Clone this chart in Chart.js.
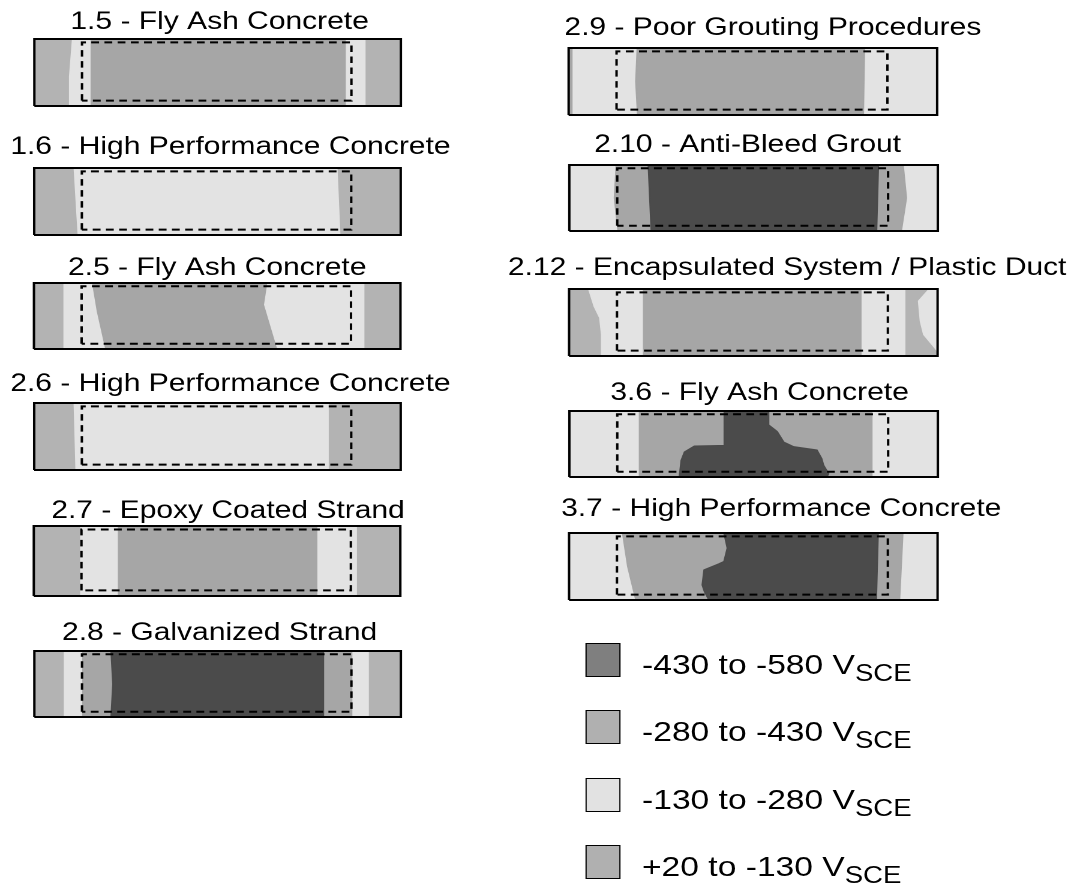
<!DOCTYPE html>
<html>
<head>
<meta charset="utf-8">
<script src="https://cdn.jsdelivr.net/npm/chart.js@4.4.1/dist/chart.umd.min.js"></script>
<style>
html, body { margin: 0; padding: 0; background: #fff; }
body { width: 1075px; height: 886px; overflow: hidden; position: relative; font-family: 'Liberation Sans', Arial, sans-serif; }
/* the original figure is stretched sideways, so the whole stage is too */
#stage { position: absolute; left: 0; top: 0; width: 896px; height: 886px; transform: scaleX(1.2); transform-origin: 0 0; }
.panel { position: absolute; }
.swatch { position: absolute; box-sizing: border-box; border: 1.5px solid #000; height: 34px; }
.keytext { position: absolute; font-size: 28px; line-height: 34px; white-space: nowrap; color: #000; }
.keytext span { font-size: 23px; vertical-align: -7px; }
</style>
</head>
<body>
<div id="stage"></div>
<script>
// potential ranges, darkest first (as in the key)
var levelLabels = ['-430 to -580', '-280 to -430', '-130 to -280', '+20 to -130'];

var titles = [
    '1.5 - Fly Ash Concrete',
    '1.6 - High Performance Concrete',
    '2.5 - Fly Ash Concrete',
    '2.6 - High Performance Concrete',
    '2.7 - Epoxy Coated Strand',
    '2.8 - Galvanized Strand',
    '2.9 - Poor Grouting Procedures',
    '2.10 - Anti-Bleed Grout',
    '2.12 - Encapsulated System / Plastic Duct',
    '3.6 - Fly Ash Concrete',
    '3.7 - High Performance Concrete'
];

// contour zones: [level, outline as [% of length, % of height]]
var whole = [[0, 0], [0, 100], [100, 100], [100, 0]];
var zones15 = [
    [3, whole],
    [2, [[10.4, 100], [9.6, 44], [9.6, 0], [90.2, 0], [90.2, 100]]],
    [1, [[15.5, 100], [15.5, 0], [84.8, 0], [84.8, 100]]]
];
var zones16 = [
    [3, whole],
    [2, [[10.9, 100], [12.0, 0], [83.4, 0], [82.6, 100]]]
];
var zones25 = [
    [3, whole],
    [2, [[8.2, 100], [8.2, 0], [90, 0], [90, 100]]],
    [1, [[16, 100], [17.3, 57], [19.6, 0], [66.2, 0], [62.6, 67], [63.5, 100]]]
];
var zones26 = [
    [3, whole],
    [2, [[10.9, 100], [11.4, 0], [80.2, 0], [80.2, 100]]]
];
var zones27 = [
    [3, whole],
    [2, [[12.8, 100], [12.8, 0], [88, 0], [88, 100]]],
    [1, [[23.1, 100], [23.1, 0], [77.2, 0], [77.2, 100]]]
];
var zones28 = [
    [3, whole],
    [2, [[8.2, 100], [8.2, 0], [91.1, 0], [91.1, 100]]],
    [1, [[13.2, 100], [13.2, 0], [86.6, 0], [86.6, 100]]],
    [0, [[20.9, 100], [21.4, 50], [20.9, 0], [78.9, 0], [78.9, 100]]]
];
var zones29 = [
    [2, whole],
    [1, [[0, 100], [0.9, 100], [0.9, 0], [0, 0]]],
    [1, [[18.6, 100], [18.2, 50], [18.7, 0], [80.0, 0], [80.3, 100]]]
];
var zones210 = [
    [2, whole],
    [1, [[12.7, 100], [12.2, 50], [13.2, 0], [90.1, 0], [91.5, 50], [90.6, 100]]],
    [0, [[21.4, 100], [22.2, 0], [83.4, 0], [83.9, 100]]]
];
var zones212 = [
    [3, whole],
    [2, [[5.3, 100], [6.8, 74], [8.3, 57], [8.8, 32], [8.8, 0], [91.1, 0], [91.1, 100]]],
    [1, [[20.2, 100], [20.2, 0], [79.2, 0], [79.2, 100]]],
    [2, [[97.7, 100], [94.8, 82], [95.3, 52], [96.2, 32], [100, 7], [100, 100]]]
];
var zones36 = [
    [2, whole],
    [1, [[19.0, 100], [19.0, 0], [82.1, 0], [82.1, 100]]],
    [0, [[42, 100], [42, 48], [33.9, 47], [31.2, 38], [30.3, 25], [29.8, 0], [69.9, 0], [70.4, 5],
         [69, 18], [68.5, 28], [67.2, 41], [60.9, 46], [58.2, 53], [56.4, 69], [54.1, 79], [54.1, 100]]]
];
var zones37 = [
    [2, whole],
    [1, [[14.5, 100], [15.9, 50], [18.1, 0], [89.7, 0], [90.6, 100]]],
    [0, [[42, 100], [42.9, 77.5], [42, 57.5], [40.6, 54], [36.6, 45], [36.1, 22.5], [36.7, 12.5],
         [37.9, 0], [83.4, 0], [83.9, 100]]]
];
var panels = [zones15, zones16, zones25, zones26, zones27, zones28,
              zones29, zones210, zones212, zones36, zones37];

// dashed duct outline, same on every specimen
var duct = [[13, 8], [13, 95], [86.5, 95], [86.5, 8], [13, 8]];
var outline = [[0, 0], [0, 100], [100, 100], [100, 0], [0, 0]];

// layout in figure pixels: title centre x, title centre y, box left, top, right, bottom
var boxes = [
    [219, 21, 33, 39, 401, 106],
    [230, 146, 33, 168, 401, 235],
    [217, 267, 33, 283, 401, 349],
    [230, 383, 33, 403, 401, 470],
    [228, 510, 33, 526, 401, 596],
    [219, 632, 33, 651, 401, 717],
    [773, 27, 568, 48, 938, 115],
    [747, 144, 568, 165, 938, 231],
    [787, 267, 568, 289, 938, 356],
    [759, 392, 568, 411, 938, 477],
    [781, 508, 568, 533, 938, 600]
];
var levelColors = ['#4b4b4b', '#a6a6a6', '#e3e3e3', '#b3b3b3'];
var keyColors = ['#7f7f7f', '#b0b0b0', '#e2e2e2', '#b0b0b0'];
var keyTops = [643, 710, 778, 845];

var S = 1.2;     // horizontal stretch of the figure
var CW = 600;    // canvas width in figure pixels
var stage = document.getElementById('stage');
Chart.defaults.font.family = "'Liberation Sans', Arial, sans-serif";

var pts = function(poly) {
    return poly.map(function(p) { return {x: p[0], y: p[1]}; });
};

panels.forEach(function(zones, i) {
    var b = boxes[i];
    var cl = b[0] - CW / 2;
    var ct = b[1] - 14;
    var h = b[5] - ct + 2;
    var div = document.createElement('div');
    div.className = 'panel';
    div.style.left = (cl / S) + 'px';
    div.style.top = ct + 'px';
    div.style.width = (CW / S) + 'px';
    div.style.height = h + 'px';
    var cv = document.createElement('canvas');
    div.appendChild(cv);
    stage.appendChild(div);

    var span = b[4] - b[2];
    var xmin = -(b[2] - cl) * 100 / span;
    var xmax = xmin + 100 * CW / span;

    var datasets = zones.map(function(z, j) {
        return {
            data: pts(z[1]),
            backgroundColor: levelColors[z[0]],
            borderColor: levelColors[z[0]],
            borderWidth: 1,
            fill: 'shape',
            pointRadius: 0,
            tension: 0,
            clip: false,
            order: zones.length - j + 2
        };
    });
    datasets.push({
        data: pts(duct), borderColor: '#000', borderWidth: 2, borderDash: [6.5, 4.5],
        fill: false, pointRadius: 0, tension: 0, clip: false, order: 1
    });
    datasets.push({
        data: pts(outline), borderColor: '#000', borderWidth: 2,
        fill: false, pointRadius: 0, tension: 0, clip: false, order: 0
    });

    new Chart(cv.getContext('2d'), {
        type: 'line',
        data: {datasets: datasets},
        options: {
            responsive: true,
            maintainAspectRatio: false,
            animation: false,
            events: [],
            devicePixelRatio: 2,
            layout: {padding: {left: 0, right: 0, top: 0, bottom: 2}},
            scales: {
                x: {type: 'linear', min: xmin, max: xmax, display: false},
                y: {type: 'linear', min: 0, max: 100, display: false}
            },
            plugins: {
                legend: {display: false},
                tooltip: {enabled: false},
                title: {
                    display: true,
                    text: titles[i],
                    color: '#000',
                    font: {size: 25, weight: 'normal', lineHeight: 1.2},
                    padding: {top: 0, bottom: b[3] - ct - 30}
                }
            }
        }
    });
});

// key
levelLabels.forEach(function(t, i) {
    var sw = document.createElement('div');
    sw.className = 'swatch';
    sw.style.left = (585 / S) + 'px';
    sw.style.width = (35 / S) + 'px';
    sw.style.top = keyTops[i] + 'px';
    sw.style.background = keyColors[i];
    stage.appendChild(sw);
    var tx = document.createElement('div');
    tx.className = 'keytext';
    tx.style.left = (642 / S) + 'px';
    tx.style.top = (keyTops[i] + 5) + 'px';
    tx.innerHTML = t + ' V<span>SCE</span>';
    stage.appendChild(tx);
});
</script>
</body>
</html>
